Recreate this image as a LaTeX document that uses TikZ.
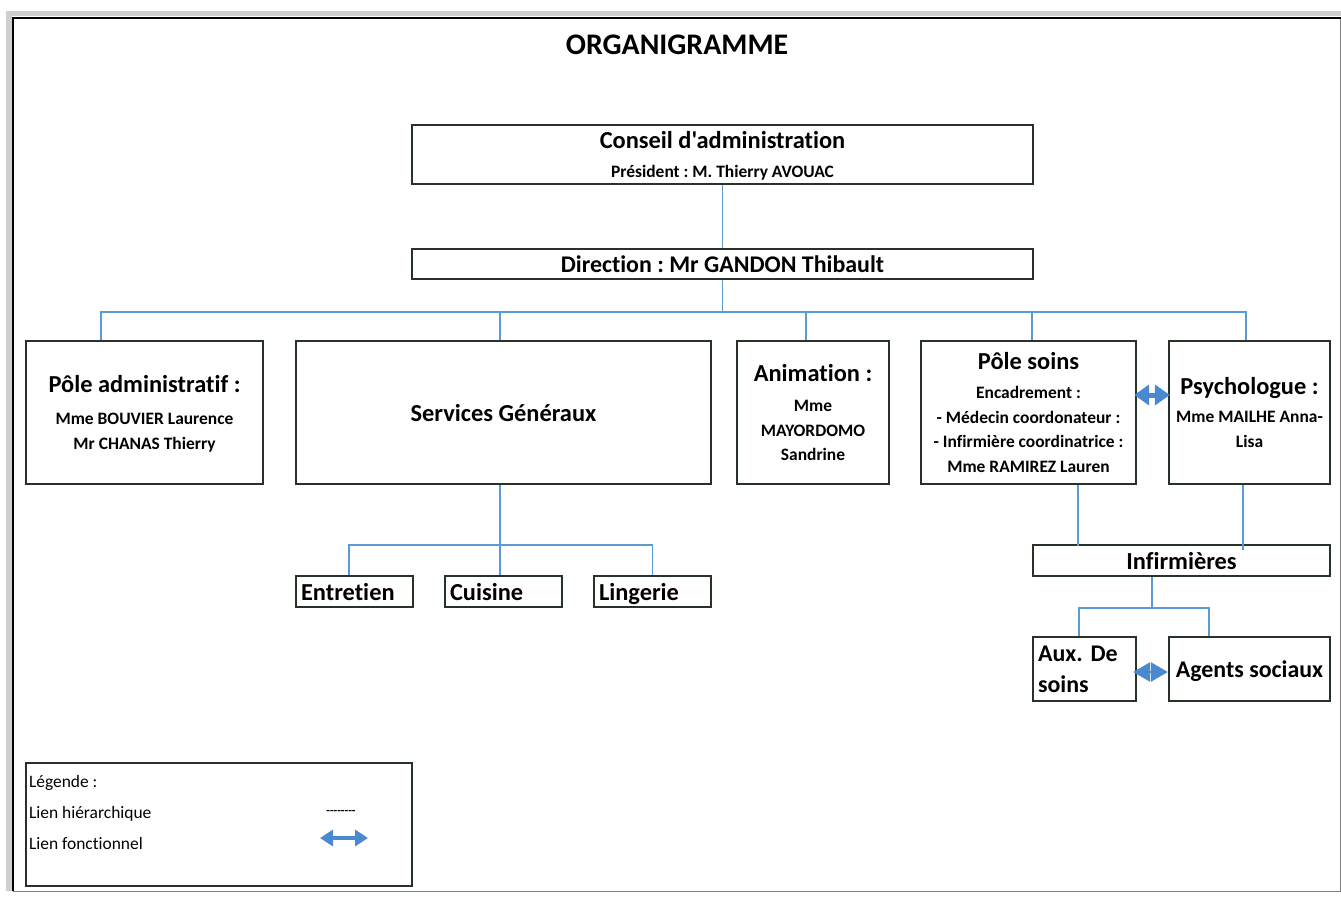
\documentclass[tikz,border=0pt]{standalone}
\usepackage{fontspec}
\setmainfont{Carlito}[Ligatures={TeXOff,CommonOff}]
\usetikzlibrary{arrows.meta, positioning}
\definecolor{boxline}{HTML}{263326}
\definecolor{linkblue}{HTML}{5B9BD5}
\definecolor{arrowblue}{HTML}{4A88D0}
\definecolor{pagegray}{HTML}{D0CECE}
\newcommand{\hd}{\fontsize{24.5}{26}\selectfont}
\frenchspacing

\begin{document}
\begin{tikzpicture}[x=1bp, y=-1bp,
	box/.style={draw=boxline, line width=2.3bp, inner sep=0pt, align=center, text depth=0bp, font=\fontsize{17.5}{25}\selectfont\bfseries},
	unit/.style={box, minimum height=143bp},
	leaf/.style={box, inner xsep=5bp, align=left, minimum height=31bp, text height=22bp, text depth=5bp, font=\hd\bfseries},
	link/.style={draw=linkblue, line width=1.9bp},
	funct/.style={draw=arrowblue, line width=5bp, >={Triangle[width=20bp, length=15bp]}, <->},
	legtext/.style={font=\fontsize{17.5}{31}\selectfont, inner sep=0pt, align=left}]
	\useasboundingbox (0,0) rectangle (1341,900);

	% Sheet
	\fill[pagegray] (6,11) rectangle (1341,16);
	\fill[pagegray] (6,11) rectangle (12,891);
	\draw[gray, line width=1bp] (1340,18) -- (1340,891) -- (13,891);
	\draw[line width=2.5bp] (13.2,891) -- (13.2,17.8) -- (1341,17.8);

	\node[font=\fontsize{30}{32}\selectfont\bfseries] (title) at (677,45) {ORGANIGRAMME};

	% Top
	\node[box, minimum width=621bp, minimum height=59bp] (conseil) at (722.5,154.5) {{\hd Conseil d'administration}\\[4bp] Président : M. Thierry AVOUAC};
	\node[box, minimum width=621bp, minimum height=30bp, font=\fontsize{24}{26}\selectfont\bfseries] (direction) at (722.5,264) {Direction : Mr GANDON Thibault};

	% Poles
	\node[unit, minimum width=237bp] (admin) at (144.5,412.5) {{\hd Pôle administratif :}\\[7bp] Mme BOUVIER Laurence\\ Mr CHANAS Thierry};
	\node[unit, minimum width=415bp, font=\hd\bfseries] (services) at (503.5,412.5) {Services Généraux};
	\node[unit, minimum width=152bp] (anim) at (813,412.5) {{\hd Animation :}\\[5bp] Mme\\ MAYORDOMO\\ Sandrine};
	\node[unit, minimum width=215bp] (soins) at (1028.5,412.5) {{\hd Pôle soins}\\[4bp] Encadrement :\\ - Médecin coordonateur :\\ - Infirmière coordinatrice :\\ Mme RAMIREZ Lauren};
	\node[unit, minimum width=161bp] (psy) at (1249.5,412.5) {{\hd Psychologue :}\\[3bp] Mme MAILHE Anna-\\ Lisa};

	% Services
	\node[leaf, text width=107bp] (entretien) at (354.5,591.5) {Entretien};
	\node[leaf, text width=107bp] (cuisine) at (503.5,591.5) {Cuisine};
	\node[leaf, text width=107bp] (lingerie) at (652.5,591.5) {Lingerie};

	% Soins
	\node[box, minimum width=297bp, minimum height=31bp, font=\hd\bfseries] (infirm) at (1181.5,560.5) {Infirmières};
	\node[leaf, text width=93bp, minimum height=64bp, text height=, text depth=, font=\fontsize{24}{31}\selectfont\bfseries] (aux) at (1084.5,669) {Aux. De\\ soins};
	\node[box, minimum width=161bp, minimum height=64bp, font=\fontsize{24}{26}\selectfont\bfseries] (agents) at (1249.5,669) {Agents sociaux};

	% Legend
	\node[draw=boxline, line width=2.3bp, minimum width=386bp, minimum height=123bp] (legend) at (219,824.5) {};
	\node[legtext, anchor=north west] (legtxt) at ([xshift=4bp, yshift=-13.5bp]legend.north west) {Légende :\\ Lien hiérarchique\\ Lien fonctionnel};
	\node[font=\fontsize{12}{12}\selectfont\bfseries, inner sep=0pt] (hier) at (341,812) {--------};
	\coordinate (legA) at (320,838);
	\coordinate (legB) at (368,838);

	% Hierarchy links
	\draw[link] (conseil) -- (direction);
	\draw[link] (direction.south) -- ++(0,32) coordinate (busmid);
	\draw[link] ([xshift=-43.5bp]admin.north) |- (busmid) -| ([xshift=-3.5bp]psy.north);
	\draw[link] ([xshift=-3.5bp]services.north) |- (busmid);
	\draw[link] ([xshift=-7bp]anim.north) |- (busmid);
	\draw[link] ([xshift=3.5bp]soins.north) |- (busmid);

	\draw[link] ([xshift=-3.5bp]services.south) -- ([xshift=-3.5bp]cuisine.north);
	\coordinate (sgbus) at ([yshift=-60bp]services.south);
	\draw[link] ([xshift=-5.5bp]entretien.north) |- (sgbus) -| (lingerie.north);

	\draw[link] ([xshift=49.5bp]soins.south) -- ++(0,61);
	\draw[link] ([xshift=-6.5bp]psy.south) -- ++(0,65);
	\draw[link] ([xshift=-29.5bp]infirm.south) -- ++(0,31) coordinate (infbus);
	\draw[link] ([xshift=-5.5bp]aux.north) |- (infbus) -| ([xshift=-40.5bp]agents.north);

	% Functional links
	\draw[funct, shorten <=-3bp, shorten >=-2bp] ([yshift=17.5bp]soins.east) -- ([yshift=17.5bp]psy.west);
	\draw[funct, line width=2.5bp, shorten <=-4bp, >={Triangle[width=19bp, length=17bp]}] ([yshift=-3bp]aux.east) -- ([yshift=-3bp]agents.west);
	\draw[funct, line width=4bp, >={Triangle[width=16bp, length=13bp]}] (legA) -- (legB);
\end{tikzpicture}
\end{document}
